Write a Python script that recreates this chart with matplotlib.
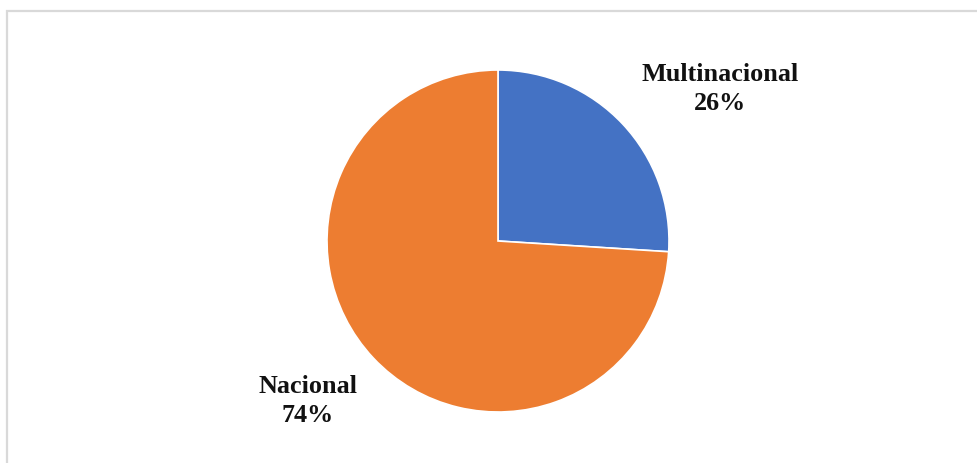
import matplotlib
matplotlib.use("Agg")
import matplotlib.pyplot as plt
from matplotlib.patches import Rectangle

categories = ["Multinacional", "Nacional"]
shares = [26, 74]
colors = ["#4472C4", "#ED7D31"]

W, H = 977, 463
fig = plt.figure(figsize=(W / 100, H / 100), dpi=100)
fig.patch.set_facecolor("white")

# light gray chart-area frame
fig.patches.append(Rectangle((7 / W, -0.05), 1.0, (H - 11) / H + 0.05,
                             transform=fig.transFigure, fill=False,
                             edgecolor="#d9d9d9", linewidth=1.6))

cx, cy, r = 498, 241, 171
ax = fig.add_axes([(cx - r) / W, (H - cy - r) / H, 2 * r / W, 2 * r / H])
ax.pie(shares, colors=colors, startangle=90, counterclock=False, radius=1,
       wedgeprops=dict(edgecolor="white", linewidth=1.2))
ax.set_xlim(-1, 1)
ax.set_ylim(-1, 1)
ax.set_aspect("auto")
ax.axis("off")

label_pos = [(720, 89), (308, 401)]
for name, val, (x, y) in zip(categories, shares, label_pos):
    fig.text(x / W, (H - y) / H, f"{name}\n{val}%", ha="center", va="center",
             fontsize=18.8, fontweight="bold", family="Liberation Serif",
             linespacing=1.3, color="#111111")

fig.savefig("out.png", dpi=100)
